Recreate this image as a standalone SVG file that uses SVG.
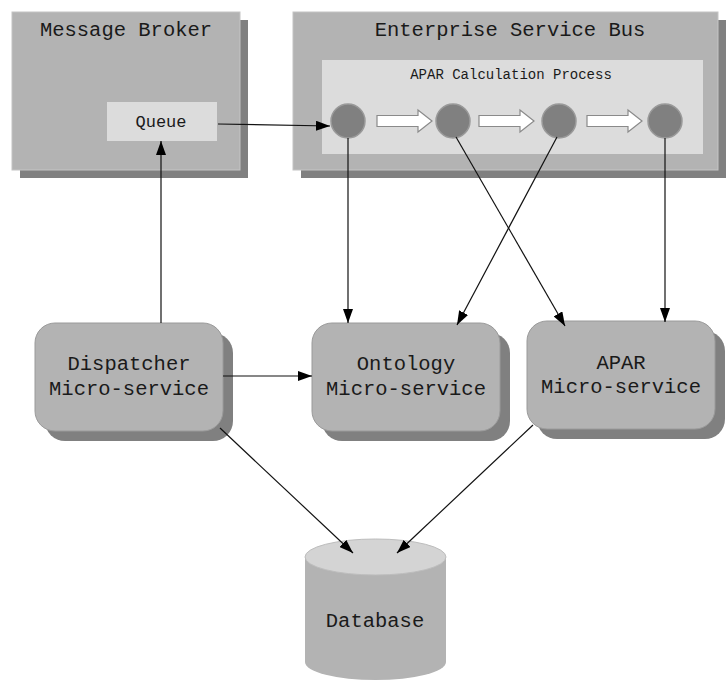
<svg xmlns="http://www.w3.org/2000/svg" width="726" height="681" viewBox="0 0 726 681">
<defs>
<style>
.t{font-family:"Liberation Mono","DejaVu Sans Mono",monospace;fill:#1a1a1a;text-anchor:middle}
.big{font-size:20.5px}
.sm{font-size:14px}
.q{font-size:17px}
.shadow{fill:#808080}
.outer{fill:#b3b3b3;stroke:#c4c4c4;stroke-width:1}
.inner{fill:#dcdcdc}
.node{fill:#b3b3b3;stroke:#9a9a9a;stroke-width:1}
.dot{fill:#808080;stroke:#9a9a9a;stroke-width:1.5}
.hollow{fill:#ffffff;stroke:#8a8a8a;stroke-width:1.2}
.edge{stroke:#111;stroke-width:1.2;fill:none;marker-end:url(#ah)}
</style>
<marker id="ah" viewBox="0 0 14 10" refX="14" refY="5" markerWidth="14" markerHeight="10" markerUnits="userSpaceOnUse" orient="auto">
<path d="M0,0 L14,5 L0,10 Z" fill="#000"/>
</marker>
</defs>

<g id="message-broker">
<rect class="shadow" x="20" y="20" width="228" height="158"/>
<rect class="outer" x="12" y="12" width="228" height="158"/>
<text class="t big" x="126" y="36">Message Broker</text>
</g>
<g id="queue">
<rect class="inner" x="107" y="102" width="110" height="39"/>
<text class="t q" x="161" y="127">Queue</text>
</g>

<g id="enterprise-service-bus">
<rect class="shadow" x="301" y="20" width="425" height="158"/>
<rect class="outer" x="293" y="12" width="425" height="158"/>
<text class="t big" x="510" y="36">Enterprise Service Bus</text>
</g>
<g id="apar-calculation-process">
<rect class="inner" x="322" y="60" width="381" height="94"/>
<text class="t sm" x="511" y="79">APAR Calculation Process</text>
<circle class="dot" cx="348" cy="121" r="17"/>
<circle class="dot" cx="453" cy="121" r="17"/>
<circle class="dot" cx="559" cy="121" r="17"/>
<circle class="dot" cx="665" cy="121" r="17"/>
<path class="hollow" d="M377,115.5 H418 V110 L432,121 L418,132 V126.5 H377 Z"/>
<path class="hollow" d="M479,115.5 H520 V110 L534,121 L520,132 V126.5 H479 Z"/>
<path class="hollow" d="M587,115.5 H628 V110 L642,121 L628,132 V126.5 H587 Z"/>
</g>

<g id="dispatcher">
<rect class="shadow" x="45" y="333" width="188" height="108" rx="20"/>
<rect class="node" x="35" y="323" width="188" height="108" rx="20"/>
<text class="t big" x="129" y="370">Dispatcher</text>
<text class="t big" x="129" y="395">Micro-service</text>
</g>
<g id="ontology">
<rect class="shadow" x="322" y="333" width="188" height="108" rx="20"/>
<rect class="node" x="312" y="323" width="188" height="108" rx="20"/>
<text class="t big" x="406" y="370">Ontology</text>
<text class="t big" x="406" y="395">Micro-service</text>
</g>
<g id="apar">
<rect class="shadow" x="537" y="331" width="188" height="108" rx="20"/>
<rect class="node" x="527" y="321" width="188" height="108" rx="20"/>
<text class="t big" x="621" y="369">APAR</text>
<text class="t big" x="621" y="393">Micro-service</text>
</g>
<g id="database">
<path d="M305,557 V662 A70.5,18 0 0 0 446,662 V557 Z" fill="#b3b3b3"/>
<ellipse cx="375.5" cy="557" rx="70.5" ry="18" fill="#d4d4d4" stroke="#bdbdbd" stroke-width="1"/>
<text class="t big" x="375" y="627">Database</text>
</g>

<g id="connectors">
<path class="edge" d="M218,124 L330,126"/>
<path class="edge" d="M161,323 V141"/>
<path class="edge" d="M223,376 H312"/>
<path class="edge" d="M348,138 V323"/>
<path class="edge" d="M456,137 L565,326"/>
<path class="edge" d="M557,137 L457,325"/>
<path class="edge" d="M665,138 V322"/>
<path class="edge" d="M220,428 L353,553"/>
<path class="edge" d="M533,425 L397,553"/>
</g>
</svg>
